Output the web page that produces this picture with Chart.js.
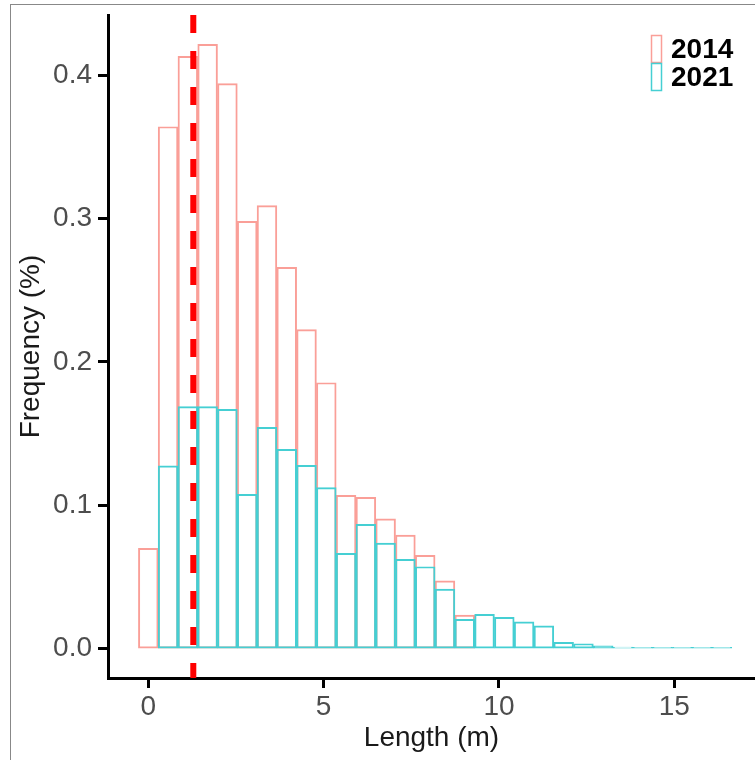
<!DOCTYPE html>
<html>
<head>
<meta charset="utf-8">
<script src="https://cdn.jsdelivr.net/npm/chart.js@4.4.1/dist/chart.umd.min.js"></script>
<style>
    html, body { margin: 0; padding: 0; background: #fff; }
    #wrap { position: relative; width: 755px; height: 760px; }
    #frame { position: absolute; left: 10px; top: 4px; right: 0; bottom: 0; border-left: 1px solid #888; border-top: 1px solid #888; }
    canvas { position: absolute; left: 0; top: 0; }
</style>
</head>
<body>
<div id="wrap">
    <div id="frame"></div>
    <canvas id="histChart" width="755" height="760"></canvas>
</div>
<script>
// bin centres (m)
const binCenters = [0, 0.564, 1.128, 1.692, 2.256, 2.82, 3.384, 3.948, 4.512, 5.076,
    5.64, 6.204, 6.768, 7.332, 7.896, 8.46, 9.024, 9.588, 10.152, 10.716,
    11.28, 11.844, 12.408, 12.972, 13.536, 14.1, 14.664, 15.228, 15.792, 16.356];

const freq2014 = [0.070, 0.364, 0.413, 0.4215, 0.394, 0.298, 0.309, 0.266, 0.2225, 0.1855,
    0.107, 0.1056, 0.0905, 0.0793, 0.0651, 0.0474, 0.0235, 0, 0, 0,
    0, 0, 0, 0, 0, 0, 0, 0, 0, 0];

const freq2021 = [0, 0.1276, 0.1688, 0.1688, 0.1669, 0.1077, 0.1544, 0.139, 0.1279, 0.1123,
    0.0665, 0.0867, 0.0737, 0.0623, 0.0572, 0.0416, 0.0205, 0.0240, 0.0219, 0.0188,
    0.016, 0.0045, 0.0035, 0.0021, 0.0012, 0.0010, 0.0010, 0.0010, 0.0010, 0.0010];

const seriesLabels = ['2014', '2021'];
const xTicks = [0, 5, 10, 15];
const yTicks = [0, 0.1, 0.2, 0.3, 0.4];
const cutLength = 1.283;

const X_MIN = -1.149, X_MAX = 17.3;
const Y_MIN = -0.0204, Y_MAX = 0.4419;

// washed-out ggplot hues, opaque so 2021 sits cleanly over 2014
const red = '#fa9f98';
const cyan = '#45cfd3';
const FONT = "'Liberation Sans', Arial, sans-serif";

function pts(values) {
    return binCenters.map((c, i) => ({ x: c, y: values[i] }));
}

// legend drawn top right inside the panel
const cornerLegend = {
    id: 'cornerLegend',
    afterDraw(chart) {
        const ctx = chart.ctx;
        const items = chart.data.datasets.filter(d => d.legendKey)
            .sort((a, b) => a.legendKey - b.legendKey);
        ctx.save();
        items.forEach((d, i) => {
            const top = 35 + i * 28;
            ctx.strokeStyle = d.borderColor;
            ctx.lineWidth = 1.5;
            ctx.strokeRect(651.5, top + 0.5, 10, 27);
            ctx.fillStyle = '#000';
            ctx.font = 'bold 28px ' + FONT;
            ctx.textBaseline = 'middle';
            ctx.textAlign = 'left';
            ctx.fillText(d.label, 671, top + 15);
        });
        ctx.restore();
    }
};

const ctx = document.getElementById('histChart').getContext('2d');
const histChart = new Chart(ctx, {
    data: {
        datasets: [
            {
                type: 'line',
                label: 'cut',
                data: [{ x: cutLength, y: Y_MAX }, { x: cutLength, y: Y_MIN }],
                borderColor: '#ff0000',
                borderWidth: 6,
                borderDash: [18, 18],
                pointRadius: 0,
                order: 0
            },
            {
                type: 'bar',
                label: seriesLabels[1],
                data: pts(freq2021),
                backgroundColor: 'rgba(0,0,0,0)',
                borderColor: cyan,
                borderWidth: 1.3,
                borderSkipped: false,
                barPercentage: 1,
                categoryPercentage: 1,
                grouped: false,
                legendKey: 2,
                order: 1
            },
            {
                type: 'bar',
                label: seriesLabels[0],
                data: pts(freq2014),
                backgroundColor: 'rgba(0,0,0,0)',
                borderColor: red,
                borderWidth: 1.3,
                borderSkipped: false,
                barPercentage: 1,
                categoryPercentage: 1,
                grouped: false,
                legendKey: 1,
                order: 2
            }
        ]
    },
    options: {
        responsive: false,
        animation: false,
        layout: { padding: { top: 15, right: 0, left: 0, bottom: 0 } },
        plugins: {
            legend: { display: false },
            tooltip: { enabled: false }
        },
        scales: {
            x: {
                type: 'linear',
                min: X_MIN,
                max: X_MAX,
                offset: false,
                afterBuildTicks: s => { s.ticks = xTicks.map(v => ({ value: v })); },
                afterFit: s => { s.height = 82; s.paddingLeft = 0; s.paddingRight = 0; },
                ticks: {
                    color: '#4d4d4d',
                    font: { family: FONT, size: 28 },
                    padding: 2,
                    callback: v => String(v)
                },
                grid: {
                    offset: false,
                    drawOnChartArea: false,
                    drawTicks: true,
                    tickLength: 10,
                    tickColor: '#000',
                    tickWidth: 3
                },
                border: { display: true, color: '#000', width: 3 },
                title: {
                    display: true,
                    text: 'Length (m)',
                    color: '#1a1a1a',
                    font: { family: FONT, size: 28 },
                    padding: { top: 0, bottom: 5 }
                }
            },
            y: {
                type: 'linear',
                min: Y_MIN,
                max: Y_MAX,
                afterBuildTicks: s => { s.ticks = yTicks.map(v => ({ value: v })); },
                afterFit: s => { s.width = 108; s.paddingTop = 0; s.paddingBottom = 0; },
                ticks: {
                    color: '#4d4d4d',
                    font: { family: FONT, size: 28 },
                    padding: 6,
                    callback: v => v.toFixed(1)
                },
                grid: {
                    drawOnChartArea: false,
                    drawTicks: true,
                    tickLength: 10,
                    tickColor: '#000',
                    tickWidth: 3
                },
                border: { display: true, color: '#000', width: 3 },
                title: {
                    display: true,
                    text: 'Frequency (%)',
                    color: '#1a1a1a',
                    font: { family: FONT, size: 28 },
                    padding: { top: 14, bottom: 0 }
                }
            }
        }
    },
    plugins: [cornerLegend]
});
</script>
</body>
</html>
